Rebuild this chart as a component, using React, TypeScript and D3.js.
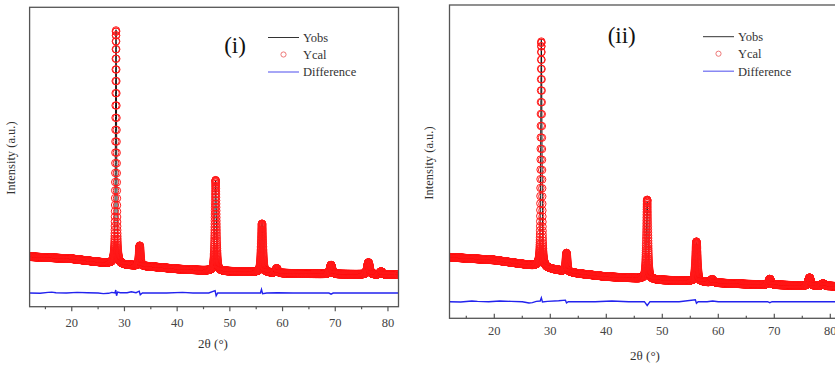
import React from "react";
import * as d3 from "d3";

// ---------- Data ----------
// Panel (i)
const peakPos1 = [28.4, 32.9, 47.3, 56.1, 58.9, 69.2, 76.3, 78.7];
const peakHeight1 = [780, 67, 303, 162, 15, 30, 40, 10];
const peakFwhm1 = [0.25, 0.32, 0.35, 0.4, 0.45, 0.5, 0.55, 0.5];
const bgX1 = [12, 20, 26, 30, 35, 40, 45, 50, 55, 60, 65, 70, 75, 82];
const bgY1 = [167, 160, 147, 140, 134, 126, 121, 118, 116, 112, 110, 109, 108, 107];
const diffX1 = [12, 14, 15.5, 16.2, 17, 19, 21, 23, 25, 26, 27, 27.6, 28.2, 28.35, 28.5, 28.7, 29.2, 30.5, 31.3, 32.2, 32.8, 33.0, 33.4, 35, 38, 41, 43, 46, 47.2, 47.4, 47.7, 50, 53, 55.8, 56.0, 56.2, 57, 59, 62, 66, 68.8, 69.2, 69.6, 72, 75, 78, 82];
const diffY1 = [0, -1, 2, 3, 1, 0, 2, 1, 0, -2, -1, 2, 0, 10, -9, 3, 1, 1, 4, 1, 6, -6, 0, 0, 0, 2, 0, 0, 8, -9, 0, 0, 0, 0, 12, -2, 0, 1, 0, 0, 0, -4, 0, 0, 0, 0, 0];
const diffBase1 = 45.7;

// Panel (ii)
const peakPos2 = [28.4, 32.9, 47.3, 56.1, 58.9, 69.2, 76.3, 78.7];
const peakHeight2 = [720, 59, 253, 127, 10, 18, 26, 8];
const peakFwhm2 = [0.25, 0.32, 0.35, 0.4, 0.45, 0.5, 0.55, 0.5];
const bgX2 = [12, 20, 27, 30, 35, 40, 45, 50, 55, 60, 65, 70, 75, 80, 82];
const bgY2 = [195, 186, 168, 158, 143, 133, 128, 122, 119, 113, 109, 107, 104, 103, 101];
const diffX2 = [12, 14, 16, 17, 19, 21, 23, 25, 26.2, 26.8, 27.5, 28.2, 28.4, 28.6, 29.5, 31.5, 32.7, 32.9, 33.2, 35, 38, 41, 44, 46.8, 47.3, 47.8, 50, 53, 55.9, 56.1, 56.4, 58, 59, 60, 64, 68.8, 69.2, 69.6, 73, 77, 82];
const diffY2 = [0, -1, 2, 1, 0, 2, 1, 0, -4, -3, 1, 2, 12, -1, 1, 3, 5, -4, 0, 0, 0, 2, 0, 0, -12, 0, 0, 0, 6, -5, 0, 0, 2, 0, 0, 0, -3, 0, 0, 0, 0];
const diffBase2 = 53;

const xTicks = [20, 30, 40, 50, 60, 70, 80];
const xMinorTicks = [15, 25, 35, 45, 55, 65, 75];
const legendLabels = ["Yobs", "Ycal", "Difference"];
const panelLabels = ["(i)", "(ii)"];

const STEP = 0.01;
const grid = d3.range(12, 82 + 1e-9, STEP);

function pv(x: number, c: number, w: number, eta = 0.5) {
  const t = (x - c) / w;
  const g = Math.exp(-4 * Math.LN2 * t * t);
  const l = 1 / (1 + 4 * t * t);
  return eta * l + (1 - eta) * g;
}

function buildCal(pos: number[], h: number[], w: number[], bx: number[], by: number[]) {
  const bg = d3.scaleLinear().domain(bx).range(by);
  return grid.map((x) => {
    let y = bg(x);
    for (let i = 0; i < pos.length; i++) y += h[i] * pv(x, pos[i], w[i]);
    return y;
  });
}

const FONT = "'Liberation Serif', 'Times New Roman', serif";

type PanelProps = {
  x0: number; x1: number; y0: number; y1: number;
  pos: number[]; h: number[]; w: number[]; bx: number[]; by: number[];
  dx: number[]; dy: number[]; dBase: number;
  tickInward: boolean;
  tickLabelY: number; titleY: number; titleX: number;
  yLabelX: number; yLabelY: number;
  label: string; labelX: number; labelY: number;
  legX: number; legY: number;
  clipId: string;
};

function Panel(p: PanelProps) {
  const xs = d3.scaleLinear().domain([12, 82]).range([p.x0, p.x1]);
  const ys = d3.scaleLinear().domain([0, 1000]).range([p.y1, p.y0]);
  const cal = buildCal(p.pos, p.h, p.w, p.bx, p.by);
  const dev = d3.scaleLinear().domain(p.dx).range(p.dy);
  const obs = grid.map((x, i) => cal[i] + (dev(x) as number) * 0.6);
  const lineObs = d3.line<number>().x((_, i) => xs(grid[i])).y((d) => ys(d));
  const diffLine = d3.line<number>().x((d) => xs(d)).y((_, i) => ys(p.dBase + p.dy[i]));
  const dir = p.tickInward ? -1 : 1;
  const tickColor = "#555";
  const leg = [p.legY, p.legY + 17, p.legY + 34.5];
  // build one path of circles for performance
  const r = 3.7;
  const circlePath = cal
    .map((v, i) => {
      const cx = xs(grid[i]);
      const cy = ys(v);
      return `M${(cx + r).toFixed(2)},${cy.toFixed(2)}a${r},${r} 0 1,0 ${-2 * r},0a${r},${r} 0 1,0 ${2 * r},0`;
    })
    .join("");
  return (
    <g>
      <defs>
        <clipPath id={p.clipId}>
          <rect x={p.x0} y={p.y0} width={p.x1 - p.x0} height={p.y1 - p.y0} />
        </clipPath>
      </defs>
      <g clipPath={`url(#${p.clipId})`}>
        <path d={lineObs(obs) || ""} fill="none" stroke="#111" strokeWidth={1} />
        <path d={circlePath} fill="none" stroke="#ff1a1a" strokeWidth={1} />
        <path d={diffLine(p.dx) || ""} fill="none" stroke="#2222ee" strokeWidth={1.4} />
      </g>
      <rect x={p.x0} y={p.y0} width={p.x1 - p.x0} height={p.y1 - p.y0} fill="none" stroke="#555" strokeWidth={1.3} />
      {xTicks.map((t) => (
        <g key={t}>
          <line x1={xs(t)} x2={xs(t)} y1={p.y1} y2={p.y1 + dir * 4.5} stroke={tickColor} strokeWidth={1.2} />
          <text x={xs(t)} y={p.tickLabelY} textAnchor="middle" fontFamily={FONT} fontSize={12.5} fill="#444">{t}</text>
        </g>
      ))}
      {xMinorTicks.map((t) => (
        <line key={t} x1={xs(t)} x2={xs(t)} y1={p.y1} y2={p.y1 + dir * 2.5} stroke={tickColor} strokeWidth={1.2} />
      ))}
      <text x={p.titleX} y={p.titleY} textAnchor="middle" fontFamily={FONT} fontSize={13} fill="#333">2θ (°)</text>
      <text transform={`translate(${p.yLabelX},${p.yLabelY}) rotate(-90)`} textAnchor="middle" dominantBaseline="middle" fontFamily={FONT} fontSize={12.5} fill="#333">Intensity (a.u.)</text>
      <text x={p.labelX} y={p.labelY} textAnchor="middle" fontFamily={FONT} fontSize={23} fill="#111">{p.label}</text>
      <line x1={p.legX} x2={p.legX + 31} y1={leg[0]} y2={leg[0]} stroke="#333" strokeWidth={1} />
      <circle cx={p.legX + 15.5} cy={leg[1]} r={2.6} fill="none" stroke="#e77" strokeWidth={1} />
      <line x1={p.legX} x2={p.legX + 31} y1={leg[2]} y2={leg[2]} stroke="#6a6af0" strokeWidth={1.2} />
      {legendLabels.map((s, i) => (
        <text key={s} x={p.legX + 35} y={leg[i] + 4.3} fontFamily={FONT} fontSize={12.5} fill="#333">{s}</text>
      ))}
    </g>
  );
}

export default function App() {
  return (
    <svg width={835} height={368} style={{ position: "absolute", left: 0, top: 0, background: "#fff" }}>
      <rect width={835} height={368} fill="#fff" />
      <Panel
        x0={29.6} x1={398.5} y0={7.3} y1={306.7}
        pos={peakPos1} h={peakHeight1} w={peakFwhm1} bx={bgX1} by={bgY1}
        dx={diffX1} dy={diffY1} dBase={diffBase1}
        tickInward={false}
        tickLabelY={327} titleY={347.5} titleX={213}
        yLabelX={12.5} yLabelY={158}
        label={panelLabels[0]} labelX={235} labelY={52.5}
        legX={268} legY={37.5}
        clipId="clipA"
      />
      <Panel
        x0={449.5} x1={841.5} y0={5} y1={318.3}
        pos={peakPos2} h={peakHeight2} w={peakFwhm2} bx={bgX2} by={bgY2}
        dx={diffX2} dy={diffY2} dBase={diffBase2}
        tickInward={true}
        tickLabelY={334.5} titleY={359.5} titleX={645}
        yLabelX={430} yLabelY={163}
        label={panelLabels[1]} labelX={621.7} labelY={42.5}
        legX={703} legY={36.7}
        clipId="clipB"
      />
    </svg>
  );
}
